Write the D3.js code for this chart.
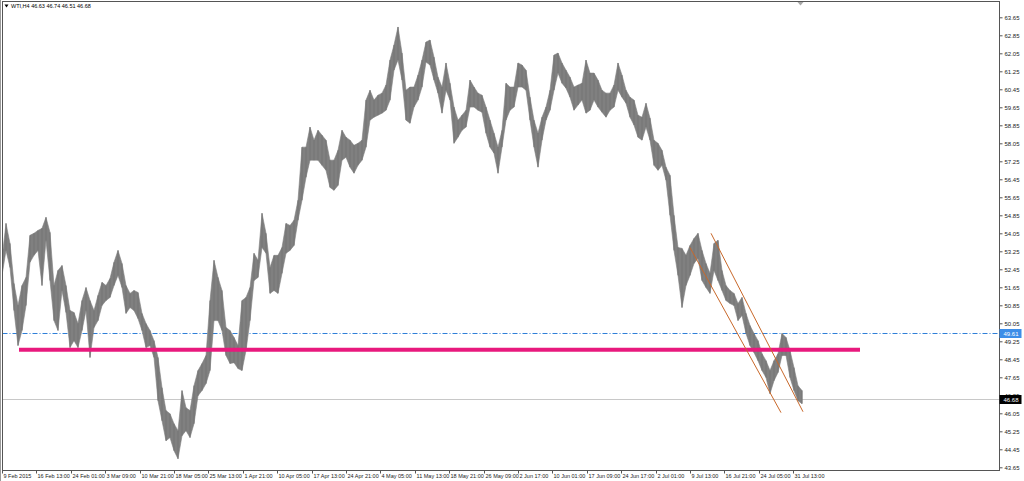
<!DOCTYPE html>
<html>
<head>
<meta charset="utf-8">
<title>WTI,H4</title>
<script src="https://d3js.org/d3.v7.min.js"></script>
<style>
  body { margin: 0; background: #fff; overflow: hidden; }
  svg { display: block; font-family: "Liberation Sans", Arial, sans-serif; }
</style>
</head>
<body>
<div id="chart"></div>
<script>
// one sample every 4 H4 bars: high and low of that slice
const highs = [
  52.93, 54.49, 53.60, 51.82, 50.84, 51.73, 52.09, 53.96, 54.05, 54.18,
  54.27, 54.76, 54.09, 51.73, 52.40, 52.62, 51.73, 50.62, 50.53, 50.04,
  51.06, 51.64, 51.06, 50.62, 51.29, 51.87, 51.73, 52.04, 52.76, 53.29,
  52.71, 51.73, 51.38, 51.51, 51.42, 50.49, 50.04, 49.73, 49.28, 48.53,
  47.19, 46.17, 46.03, 45.59, 45.28, 47.06, 46.30, 46.17, 47.28, 47.95,
  48.26, 48.62, 51.06, 52.85, 52.09, 51.51, 49.86, 49.73, 49.42, 49.06,
  51.06, 51.20, 51.64, 53.16, 52.85, 54.94, 54.05, 52.53, 53.07, 53.07,
  53.42, 54.49, 54.40, 54.63, 55.52, 57.88, 57.88, 58.77, 58.19, 58.63,
  58.41, 58.19, 57.30, 57.30, 57.74, 58.63, 58.32, 58.19, 57.96, 58.05,
  58.19, 59.97, 60.41, 59.97, 60.19, 60.28, 60.64, 61.75, 62.42, 63.22,
  62.06, 60.41, 60.55, 60.55, 61.08, 61.75, 62.55, 62.64, 61.88, 60.99,
  60.55, 61.62, 60.72, 59.66, 59.08, 59.30, 59.52, 60.86, 60.55, 60.28,
  60.19, 59.66, 59.08, 58.50, 57.88, 58.63, 60.72, 60.55, 60.55, 61.62,
  61.53, 61.30, 60.10, 59.08, 58.50, 59.21, 59.66, 60.41, 61.97, 62.06,
  61.62, 61.30, 60.99, 60.55, 60.64, 60.72, 61.75, 61.17, 61.17, 60.86,
  60.41, 60.28, 60.28, 60.64, 61.62, 61.08, 60.41, 60.10, 59.97, 59.30,
  59.21, 59.83, 59.17, 58.19, 58.05, 57.74, 56.99, 56.63, 54.85, 53.42,
  53.38, 53.07, 53.51, 53.82, 54.05, 53.29, 52.71, 52.27, 53.60, 53.74,
  52.40, 51.73, 51.51, 51.38, 50.93, 51.20, 50.49, 49.95, 49.60, 49.28,
  48.70, 48.39, 47.95, 48.39, 48.70, 49.60, 49.42, 48.84, 48.08, 47.28,
  47.06
];
const lows = [
  52.18, 53.29, 52.53, 50.62, 49.06, 49.73, 50.84, 52.76, 53.07, 53.29,
  51.73, 53.74, 51.95, 50.17, 49.73, 51.51, 50.53, 48.97, 49.28, 48.97,
  49.73, 50.62, 48.53, 49.86, 50.17, 50.84, 51.06, 51.20, 51.73, 52.18,
  51.64, 50.49, 50.75, 50.62, 50.26, 49.73, 48.97, 49.06, 48.53, 46.61,
  45.72, 44.83, 44.97, 44.39, 44.03, 45.05, 45.28, 44.97, 45.59, 46.83,
  47.06, 47.37, 47.95, 50.17, 50.17, 49.73, 48.62, 48.26, 48.30, 48.04,
  47.95, 48.84, 50.17, 51.95, 52.09, 53.42, 53.16, 51.38, 51.51, 51.38,
  52.27, 53.16, 53.29, 53.51, 54.63, 55.52, 56.54, 57.30, 57.30, 57.30,
  57.07, 56.85, 56.09, 55.96, 56.18, 57.30, 57.43, 56.99, 56.72, 57.07,
  57.30, 57.88, 59.08, 59.21, 59.30, 59.39, 59.52, 59.97, 61.30, 61.75,
  60.86, 59.08, 58.94, 59.66, 59.97, 60.55, 61.66, 61.53, 60.86, 60.28,
  59.39, 60.41, 59.97, 58.05, 58.32, 58.63, 58.77, 59.66, 59.66, 59.52,
  59.43, 58.50, 57.88, 57.61, 56.72, 57.88, 59.08, 59.52, 59.66, 60.55,
  60.55, 60.41, 59.08, 57.88, 56.99, 58.19, 59.08, 59.52, 60.41, 61.17,
  60.72, 60.50, 60.10, 59.52, 59.75, 59.97, 59.39, 59.52, 59.97, 59.66,
  59.43, 59.21, 59.52, 59.66, 60.41, 60.10, 59.83, 59.21, 58.86, 58.32,
  58.19, 58.77, 58.19, 57.07, 56.85, 57.07, 56.41, 54.85, 53.29, 52.18,
  50.75, 51.73, 52.18, 52.71, 52.93, 51.95, 51.64, 51.38, 52.40, 51.95,
  51.51, 51.06, 50.93, 50.84, 50.17, 50.40, 49.60, 49.06, 48.75, 48.39,
  47.95, 47.64, 46.92, 47.50, 47.86, 48.62, 48.62, 47.64, 47.06, 46.61,
  46.48
];
const barStep = 4;

// time axis: bar index of each label
const tickBars = [0, 34, 69, 103, 138, 172, 206, 241, 275, 310, 344, 378,
                  413, 447, 482, 516, 550, 585, 619, 654, 688, 722, 757, 791];
const tickLabels = ["9 Feb 2015", "16 Feb 13:00", "24 Feb 01:00", "3 Mar 09:00",
  "10 Mar 21:00", "18 Mar 05:00", "25 Mar 13:00", "1 Apr 21:00", "10 Apr 05:00",
  "17 Apr 13:00", "24 Apr 21:00", "4 May 05:00", "11 May 13:00", "18 May 21:00",
  "26 May 09:00", "2 Jun 17:00", "10 Jun 01:00", "17 Jun 09:00", "24 Jun 17:00",
  "2 Jul 01:00", "9 Jul 13:00", "16 Jul 21:00", "24 Jul 05:00", "31 Jul 13:00"];

const priceTicks = [63.65, 62.85, 62.05, 61.25, 60.45, 59.65, 58.85, 58.05, 57.25,
  56.45, 55.65, 54.85, 54.05, 53.25, 52.45, 51.65, 50.85, 50.05, 49.25, 48.45,
  47.65, 46.85, 46.05, 45.25, 44.45, 43.65];

// drawn objects
const supportLevel = 48.88, supportFrom = 17, supportTo = 858;
const alertLevel = 49.61;
const bidLevel = 46.68;
const channelUpper = [[709, 54.05], [801, 46.12]];
const channelLower = [[688, 53.42], [779, 46.08]];
const title = "WTI,H4  46.63 46.74 46.51 46.68";

const W = 1024, H = 481;
const frame = {left: 2.5, top: 1.5, right: 999.5, bottom: 470.5};

const svg = d3.select("#chart").append("svg")
    .attr("width", W).attr("height", H);

const x = d3.scaleLinear().domain([0, 800]).range([2, 802]);
const y = d3.scaleLinear().domain([43.65, 63.65]).range([467.3, 17.3]);

svg.append("clipPath").attr("id", "clip")
  .append("rect")
    .attr("x", frame.left).attr("y", frame.top)
    .attr("width", frame.right - frame.left).attr("height", frame.bottom - frame.top);

const plot = svg.append("g").attr("clip-path", "url(#clip)");

// grey bid line
plot.append("line")
    .attr("x1", frame.left).attr("x2", frame.right)
    .attr("y1", Math.round(y(bidLevel)) + 0.5).attr("y2", Math.round(y(bidLevel)) + 0.5)
    .attr("stroke", "#c8c8c8");

// blue dash-dot level
plot.append("line")
    .attr("x1", frame.left).attr("x2", frame.right)
    .attr("y1", Math.round(y(alertLevel)) + 0.5).attr("y2", Math.round(y(alertLevel)) + 0.5)
    .attr("stroke", "#2f7fd8")
    .attr("stroke-dasharray", "5,2,1,2");

// price band
const data = highs.map((h, i) => ({bar: i * barStep, hi: h, lo: lows[i]}));

plot.append("path")
    .datum(data)
    .attr("fill", "#808080")
    .attr("stroke", "#808080")
    .attr("stroke-width", 0.6)
    .attr("d", d3.area().x(d => x(d.bar)).y0(d => y(d.lo)).y1(d => y(d.hi)));

plot.selectAll("line.bar")
    .data(data)
    .enter().append("line")
    .attr("class", "bar")
    .attr("x1", d => x(d.bar)).attr("x2", d => x(d.bar))
    .attr("y1", d => y(d.hi)).attr("y2", d => y(d.lo))
    .attr("stroke", "#747474")
    .attr("stroke-width", 1);

// support line
plot.append("line")
    .attr("x1", x(supportFrom)).attr("x2", x(supportTo))
    .attr("y1", y(supportLevel)).attr("y2", y(supportLevel))
    .attr("stroke", "#e8197d")
    .attr("stroke-width", 4);

// channel
[channelUpper, channelLower].forEach(c => {
  plot.append("line")
      .attr("x1", x(c[0][0])).attr("y1", y(c[0][1]))
      .attr("x2", x(c[1][0])).attr("y2", y(c[1][1]))
      .attr("stroke", "#c8682a")
      .attr("stroke-width", 1);
});

// frame
svg.append("line").attr("x1", 0.5).attr("x2", 0.5).attr("y1", 0).attr("y2", H)
    .attr("stroke", "#9a9a9a");
svg.append("rect")
    .attr("x", frame.left).attr("y", frame.top)
    .attr("width", frame.right - frame.left).attr("height", frame.bottom - frame.top)
    .attr("fill", "none").attr("stroke", "#555");

// price axis
const yAxis = svg.append("g")
    .attr("transform", "translate(" + frame.right + ",0)")
    .call(d3.axisRight(y).tickValues(priceTicks).tickSize(3).tickPadding(2)
          .tickFormat(d3.format(".2f")));
yAxis.select(".domain").remove();
yAxis.selectAll("line").attr("stroke", "#555");
yAxis.selectAll("text").attr("font-size", "6px").attr("fill", "#222")
    .attr("font-family", "Liberation Sans, Arial, sans-serif");

// time axis
const xAxis = svg.append("g")
    .attr("transform", "translate(0," + frame.bottom + ")")
    .call(d3.axisBottom(x).tickValues(tickBars).tickSize(3).tickPadding(1)
          .tickFormat((d, i) => tickLabels[i]));
xAxis.select(".domain").remove();
xAxis.selectAll("line").attr("stroke", "#555");
xAxis.selectAll("text")
    .attr("text-anchor", "start")
    .attr("dx", "1px")
    .attr("font-size", "5.5px").attr("fill", "#222")
    .attr("font-family", "Liberation Sans, Arial, sans-serif");

// price labels on the axis
function tag(level, fill) {
  const yy = Math.round(y(level)) + 0.5;
  svg.append("rect")
      .attr("x", frame.right).attr("y", yy - 4.5)
      .attr("width", 22).attr("height", 9)
      .attr("fill", fill);
  svg.append("text")
      .attr("x", frame.right + 4).attr("y", yy + 2.2)
      .attr("font-size", "6px").attr("fill", "#fff")
      .text(d3.format(".2f")(level));
}
tag(alertLevel, "#3d8ee8");
tag(bidLevel, "#000");

// title
svg.append("path")
    .attr("d", "M4.5,4.5 L8.5,4.5 L6.5,7.5 Z")
    .attr("fill", "#000");
svg.append("text")
    .attr("x", 11).attr("y", 8.3)
    .attr("font-size", "5.5px").attr("fill", "#000")
    .text(title);

// shift marker
svg.append("path")
    .attr("d", "M797.5,2 L803.5,2 L800.5,5.5 Z")
    .attr("fill", "#a8a8a8");
</script>
</body>
</html>
